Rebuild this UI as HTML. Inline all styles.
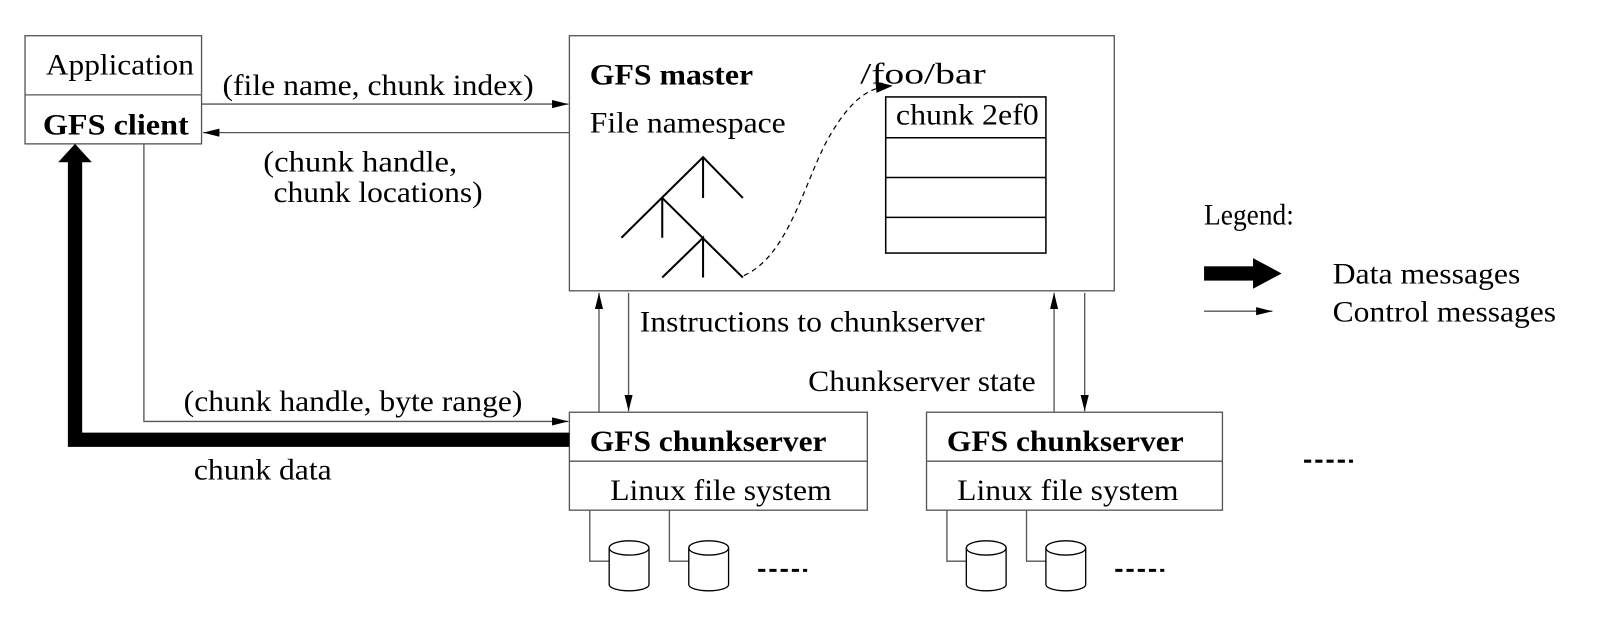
<!DOCTYPE html>
<html><head><meta charset="utf-8"><style>
html,body{margin:0;padding:0;background:#fff;width:1600px;height:626px;overflow:hidden}
svg{display:block}
text{font-family:"Liberation Serif","Times New Roman",serif;font-size:29px;fill:#000}
.b{font-weight:bold}
</style></head><body>
<svg width="1600" height="626" viewBox="0 0 1568 613.5" xmlns="http://www.w3.org/2000/svg">
<defs>
<marker id="a" markerWidth="16" markerHeight="8" refX="16" refY="4" orient="auto" markerUnits="userSpaceOnUse"><path d="M0,0 L16,4 L0,8 z" fill="#000"/></marker>
</defs>
<g fill="none" stroke="#555" stroke-width="1.3">
<rect x="24.5" y="35" width="173" height="106"/>
<line x1="24.5" y1="93" x2="197.5" y2="93"/>
<rect x="558" y="35" width="534" height="250"/>
<rect x="558" y="404" width="292" height="96"/>
<line x1="558" y1="452" x2="850" y2="452"/>
<rect x="908" y="404" width="290" height="96"/>
<line x1="908" y1="452" x2="1198" y2="452"/>
<line x1="198" y1="102" x2="557" y2="102" marker-end="url(#a)"/>
<line x1="558" y1="130" x2="199" y2="130" marker-end="url(#a)"/>
<polyline points="141,141 141,413 557,413" marker-end="url(#a)"/>
<line x1="587" y1="404" x2="587" y2="287" marker-end="url(#a)"/>
<line x1="616" y1="287" x2="616" y2="403" marker-end="url(#a)"/>
<line x1="1033" y1="404" x2="1033" y2="287" marker-end="url(#a)"/>
<line x1="1063" y1="287" x2="1063" y2="403" marker-end="url(#a)"/>
<line x1="1180" y1="305" x2="1247" y2="305" marker-end="url(#a)"/>
<polyline points="578,500 578,550 597,550"/>
<polyline points="656,500 656,550 675,550"/>
<polyline points="928,500 928,550 947,550"/>
<polyline points="1006,500 1006,550 1025,550"/>
</g>
<g fill="#fff" stroke="#000" stroke-width="1.3">
<path d="M597,537 L597,573 A19.5,6 0 0 0 636,573 L636,537"/><ellipse cx="616.5" cy="537" rx="19.5" ry="7"/>
<path d="M675,537 L675,573 A19.5,6 0 0 0 714,573 L714,537"/><ellipse cx="694.5" cy="537" rx="19.5" ry="7"/>
<path d="M947,537 L947,573 A19.5,6 0 0 0 986,573 L986,537"/><ellipse cx="966.5" cy="537" rx="19.5" ry="7"/>
<path d="M1025,537 L1025,573 A19.5,6 0 0 0 1064,573 L1064,537"/><ellipse cx="1044.5" cy="537" rx="19.5" ry="7"/>
</g>
<g stroke="#000" stroke-width="3" stroke-dasharray="7,4">
<line x1="743" y1="559" x2="791" y2="559"/>
<line x1="1093" y1="559" x2="1141" y2="559"/>
<line x1="1278" y1="452" x2="1326" y2="452"/>
</g>
<polyline points="558,431 73.5,431 73.5,158" fill="none" stroke="#000" stroke-width="14"/>
<polygon points="57,159 90,159 73.5,141" fill="#000"/>
<rect x="1180" y="261" width="50" height="14" fill="#000"/>
<polygon points="1228,253 1256,268 1228,283" fill="#000"/>
<g stroke="#000" stroke-width="2" fill="none">
<polyline points="609,233 689,154 728,194"/>
<line x1="689" y1="154" x2="689" y2="194"/>
<polyline points="649,194 728,272"/>
<line x1="649" y1="194" x2="649" y2="233"/>
<polyline points="649,272 689,233 689,272"/>
</g>
<g fill="none" stroke="#000" stroke-width="1.5">
<rect x="868" y="95" width="157" height="153"/>
<line x1="868" y1="135" x2="1025" y2="135"/>
<line x1="868" y1="174" x2="1025" y2="174"/>
<line x1="868" y1="213" x2="1025" y2="213"/>
</g>
<path d="M729,270 C775,250 790,170 815,130 C830,105 845,90 862,86" fill="none" stroke="#000" stroke-width="1.2" stroke-dasharray="5,4"/>
<polygon points="858,80 875,84 859,91" fill="#000"/>
<text x="45" y="73" textLength="145" lengthAdjust="spacingAndGlyphs">Application</text>
<text x="42" y="132" class="b" textLength="143" lengthAdjust="spacingAndGlyphs">GFS client</text>
<text x="218" y="93" textLength="305" lengthAdjust="spacingAndGlyphs">(file name, chunk index)</text>
<text x="258" y="168" textLength="190" lengthAdjust="spacingAndGlyphs">(chunk handle,</text>
<text x="268" y="198" textLength="205" lengthAdjust="spacingAndGlyphs">chunk locations)</text>
<text x="578" y="83" class="b" textLength="160" lengthAdjust="spacingAndGlyphs">GFS master</text>
<text x="578" y="130" textLength="192" lengthAdjust="spacingAndGlyphs">File namespace</text>
<text x="843" y="82" textLength="123" lengthAdjust="spacingAndGlyphs">/foo/bar</text>
<text x="878" y="122" textLength="140" lengthAdjust="spacingAndGlyphs">chunk 2ef0</text>
<text x="1180" y="220" textLength="88" lengthAdjust="spacingAndGlyphs">Legend:</text>
<text x="1306" y="278" textLength="184" lengthAdjust="spacingAndGlyphs">Data messages</text>
<text x="1306" y="315" textLength="219" lengthAdjust="spacingAndGlyphs">Control messages</text>
<text x="627" y="325" textLength="338" lengthAdjust="spacingAndGlyphs">Instructions to chunkserver</text>
<text x="792" y="383" textLength="223" lengthAdjust="spacingAndGlyphs">Chunkserver state</text>
<text x="180" y="403" textLength="332" lengthAdjust="spacingAndGlyphs">(chunk handle, byte range)</text>
<text x="190" y="470" textLength="135" lengthAdjust="spacingAndGlyphs">chunk data</text>
<text x="578" y="442" class="b" textLength="232" lengthAdjust="spacingAndGlyphs">GFS chunkserver</text>
<text x="928" y="442" class="b" textLength="232" lengthAdjust="spacingAndGlyphs">GFS chunkserver</text>
<text x="598" y="490" textLength="217" lengthAdjust="spacingAndGlyphs">Linux file system</text>
<text x="938" y="490" textLength="217" lengthAdjust="spacingAndGlyphs">Linux file system</text>
</svg>
</body></html>
